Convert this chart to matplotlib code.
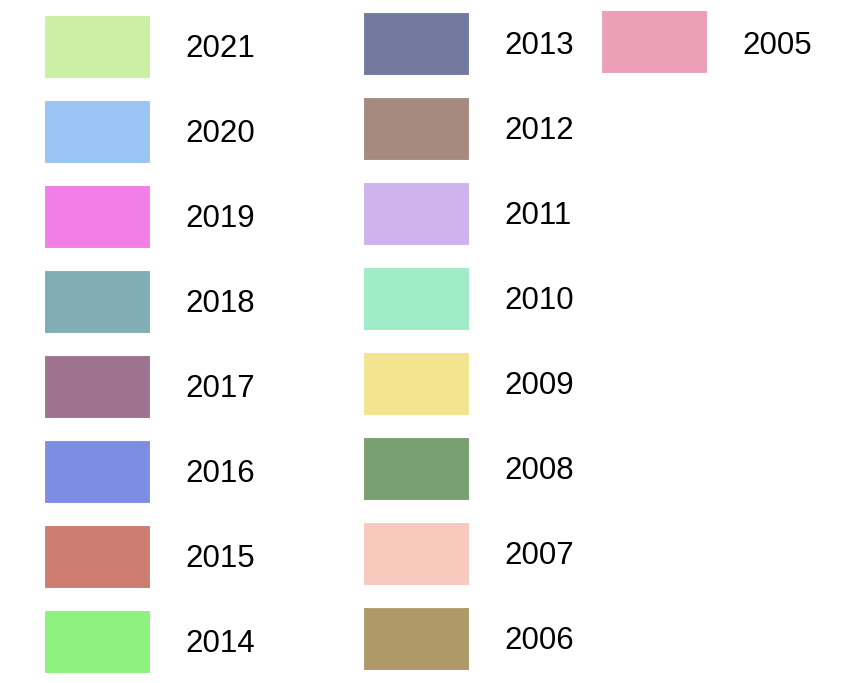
import numpy as np
import matplotlib
matplotlib.use("Agg")
import matplotlib.pyplot as plt

# legend entries, in the order they appear (top-down, column by column)
years = ["2021", "2020", "2019", "2018", "2017", "2016", "2015", "2014",
         "2013", "2012", "2011", "2010", "2009", "2008", "2007", "2006",
         "2005"]
colors = ["#ccefa6", "#9bc4f4", "#f27fe6", "#81aeb6", "#9e7390", "#7e8de4",
          "#cc7d70", "#8ef17f", "#737a9f", "#a68a7f", "#cfb3ef", "#a0ecc6",
          "#f3e48f", "#78a070", "#f8c9bd", "#ae9968", "#eca0b7"]

plt.rcParams["font.family"] = ["Liberation Sans", "DejaVu Sans"]

W, H = 846, 683
fig = plt.figure(figsize=(W / 100, H / 100), dpi=100)
ax = fig.add_axes([0, 0, 1, 1])
ax.set_xlim(0, W)
ax.set_ylim(H, 0)
ax.axis("off")

per_col = 8
col_left = [44, 363, 601]
col_top = [15, 12, 10]
col_text = [185, 504, 742]
text_off = [34, 34, 36]
pitch = 85
sw_w, sw_h = 106, 63

idx = np.arange(len(years))
col = idx // per_col
row = idx % per_col
lefts = np.array(col_left)[col]
tops = np.array(col_top)[col] + row * pitch

ax.bar(lefts, sw_h, width=sw_w, bottom=tops, align="edge", color=colors,
       edgecolor="white", linewidth=0.8)

for i, y in enumerate(years):
    ax.text(col_text[col[i]], tops[i] + text_off[col[i]], y, fontsize=22.5,
            ha="left", va="center", color="black")

fig.savefig("out.png", dpi=100)
